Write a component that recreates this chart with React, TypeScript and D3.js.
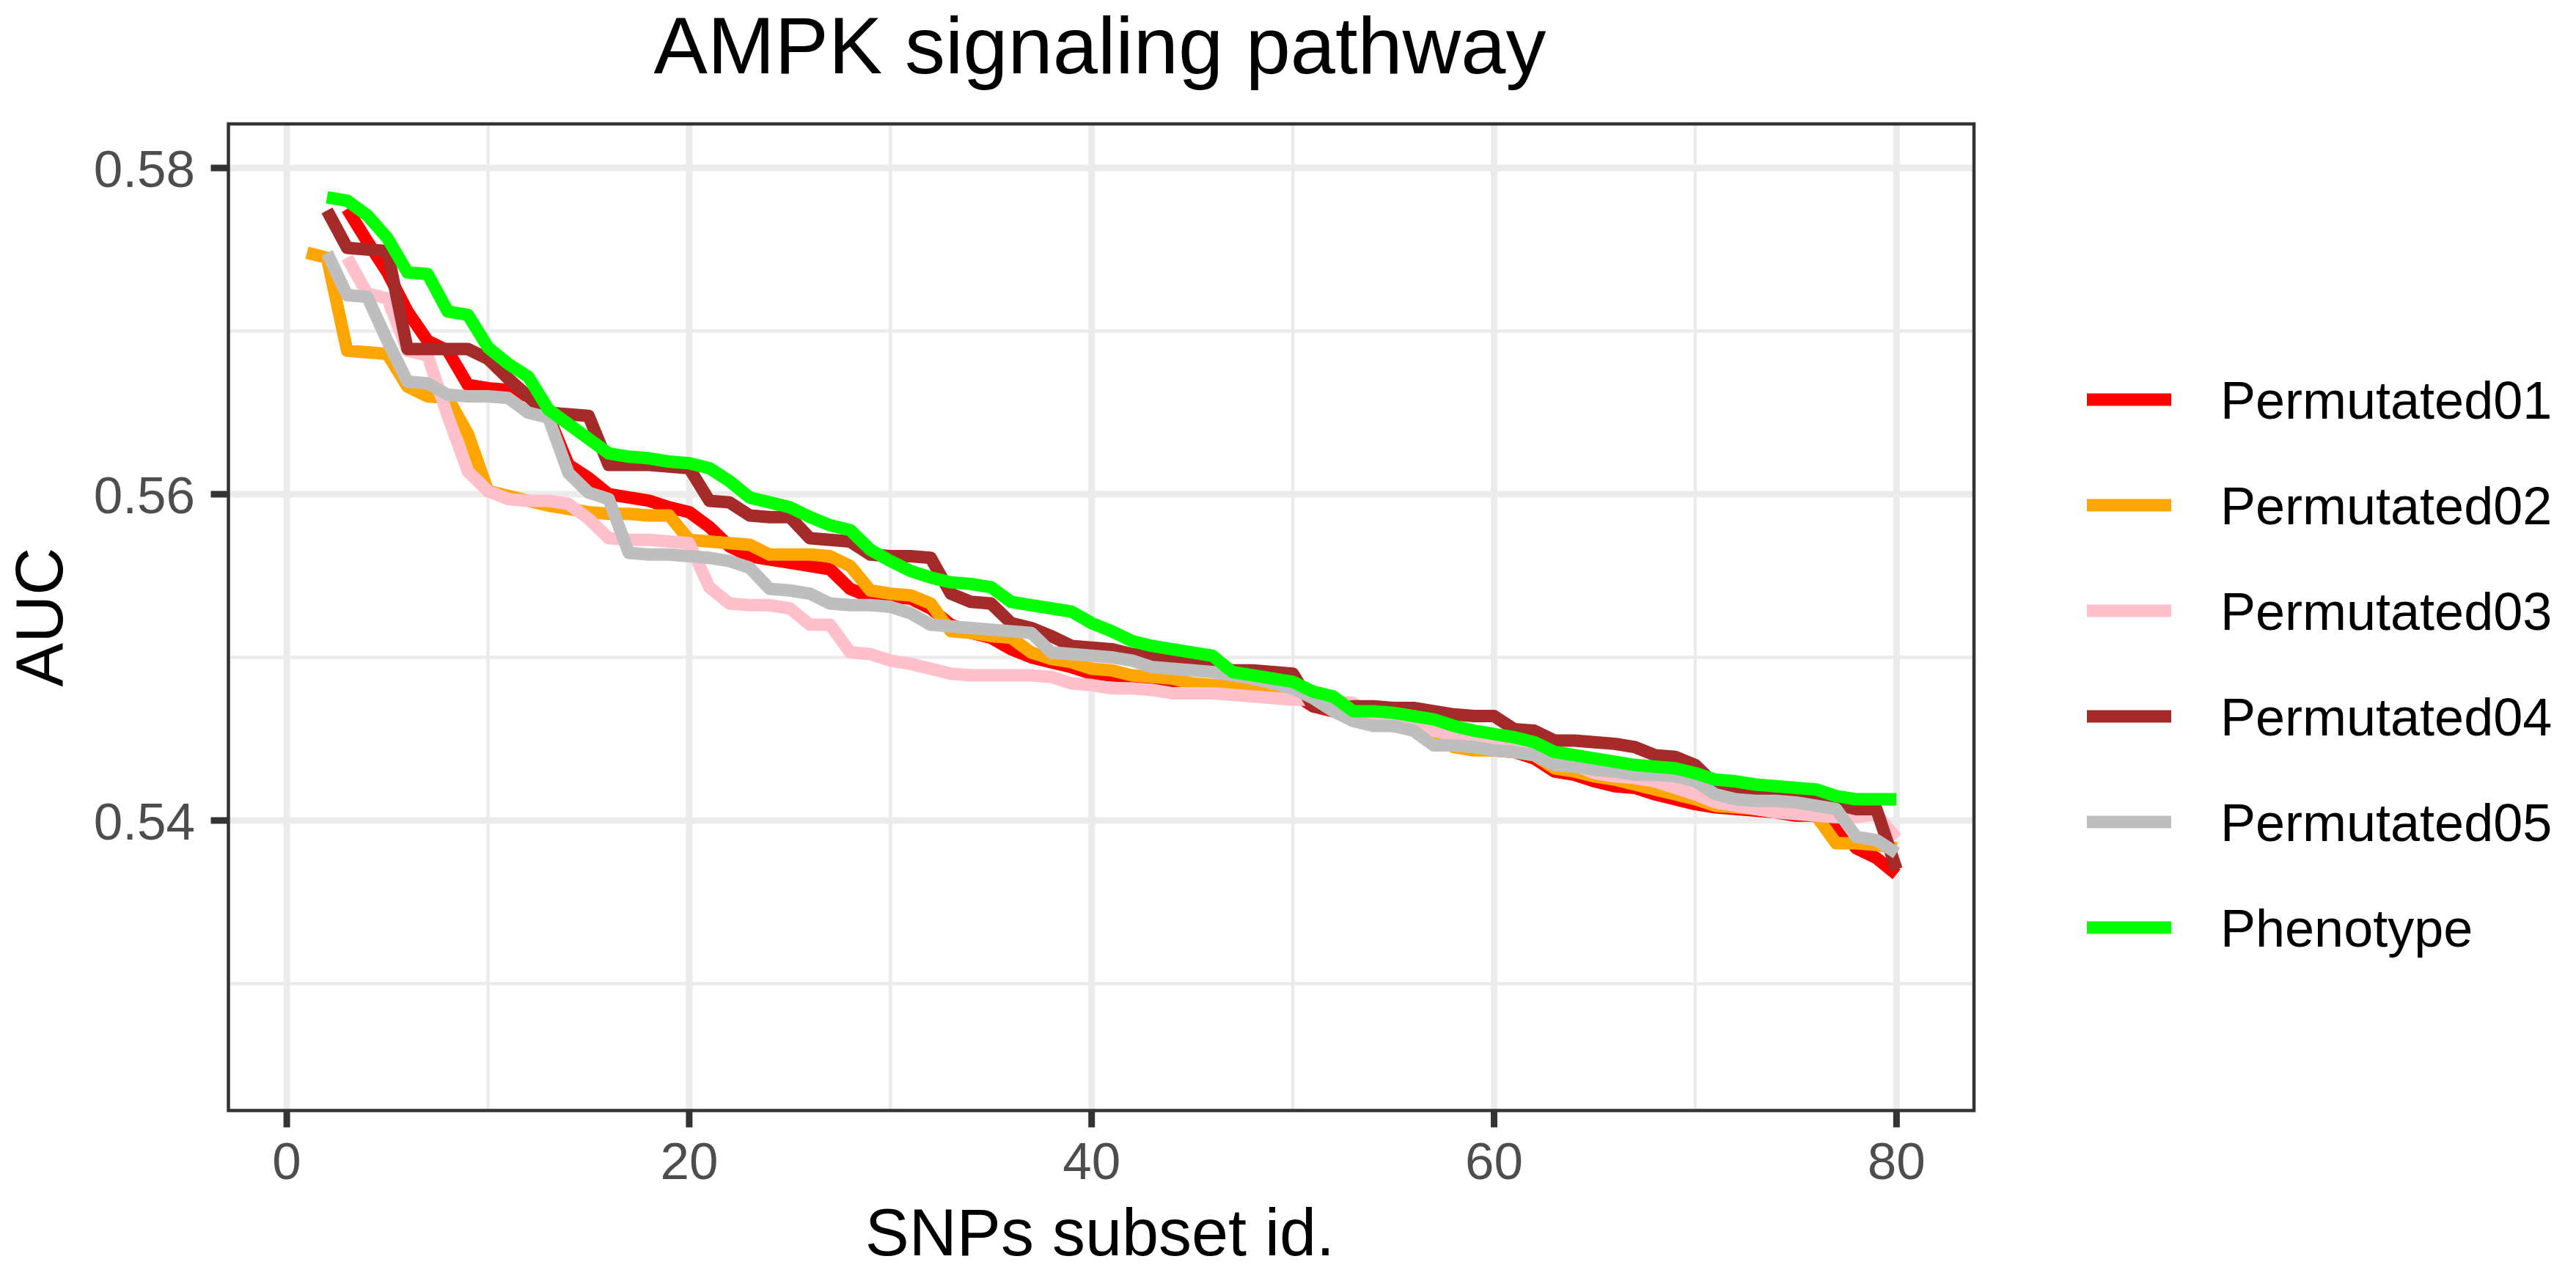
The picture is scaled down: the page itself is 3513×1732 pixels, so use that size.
import React from 'react';
import * as d3 from 'd3';

// AUC per SNPs subset id (index 0 = id 1); null where a run has no value
const permutated01 = [
  null, null, 0.5775, 0.5755, 0.5736, 0.5712, 0.5694, 0.5688, 0.5667, 0.5665,
  0.5664, 0.5660, 0.5648, 0.5618, 0.5610, 0.5600, 0.5598, 0.5596, 0.5592, 0.5589,
  0.5580, 0.5568, 0.5562, 0.5560, 0.5558, 0.5556, 0.5554, 0.5542, 0.5537, 0.5537,
  0.5536, 0.5530, 0.5520, 0.5515, 0.5512, 0.5505, 0.5500, 0.5497, 0.5494, 0.5490,
  0.5489, 0.5488, 0.5486, 0.5484, 0.5483, 0.5482, 0.5481, 0.5480, 0.5479, 0.5478,
  0.5470, 0.5467, 0.5464, 0.5460, 0.5458, 0.5456, 0.5453, 0.5446, 0.5444, 0.5443,
  0.5442, 0.5438, 0.5430, 0.5428, 0.5424, 0.5421, 0.5420, 0.5416, 0.5413, 0.5410,
  0.5408, 0.5407, 0.5406, 0.5405, 0.5403, 0.5403, 0.5398, 0.5383, 0.5377, 0.5367,
];

const permutated02 = [
  0.5748, 0.5745, 0.5688, 0.5687, 0.5686, 0.5666, 0.5660, 0.5659, 0.5637, 0.5602,
  0.5599, 0.5596, 0.5593, 0.5591, 0.5589, 0.5588, 0.5588, 0.5587, 0.5587, 0.5572,
  0.5571, 0.5570, 0.5569, 0.5563, 0.5563, 0.5563, 0.5562, 0.5556, 0.5541, 0.5539,
  0.5538, 0.5533, 0.5516, 0.5515, 0.5513, 0.5512, 0.5503, 0.5499, 0.5497, 0.5493,
  0.5492, 0.5489, 0.5488, 0.5487, 0.5484, 0.5483, 0.5482, 0.5481, 0.5480, 0.5479,
  0.5472, 0.5468, 0.5464, 0.5460, 0.5458, 0.5457, 0.5454, 0.5445, 0.5443, 0.5443,
  0.5442, 0.5440, 0.5432, 0.5430, 0.5427, 0.5425, 0.5422, 0.5419, 0.5416, 0.5413,
  0.5409, 0.5408, 0.5407, 0.5406, 0.5405, 0.5403, 0.5386, 0.5386, 0.5385, 0.5383,
];

const permutated03 = [
  null, null, 0.5745, 0.5723, 0.5720, 0.5688, 0.5685, 0.5648, 0.5614, 0.5602,
  0.5597, 0.5596, 0.5596, 0.5594, 0.5585, 0.5573, 0.5572, 0.5572, 0.5571, 0.5570,
  0.5543, 0.5533, 0.5532, 0.5532, 0.5530, 0.5520, 0.5520, 0.5503, 0.5502, 0.5498,
  0.5496, 0.5493, 0.5490, 0.5489, 0.5489, 0.5489, 0.5489, 0.5488, 0.5484, 0.5483,
  0.5481, 0.5481, 0.5480, 0.5478, 0.5478, 0.5478, 0.5477, 0.5476, 0.5475, 0.5474,
  0.5474, 0.5473, 0.5472, 0.5462, 0.5460, 0.5458, 0.5455, 0.5452, 0.5450, 0.5448,
  0.5447, 0.5446, 0.5440, 0.5434, 0.5429, 0.5427, 0.5426, 0.5424, 0.5420, 0.5416,
  0.5411, 0.5409, 0.5407, 0.5405, 0.5404, 0.5403, 0.5402, 0.5402, 0.5404, 0.5389,
];

const permutated04 = [
  null, 0.5774, 0.5751, 0.5750, 0.5749, 0.5689, 0.5689, 0.5689, 0.5689, 0.5683,
  0.5671, 0.5660, 0.5650, 0.5649, 0.5648, 0.5618, 0.5618, 0.5618, 0.5617, 0.5616,
  0.5596, 0.5595, 0.5587, 0.5586, 0.5586, 0.5573, 0.5572, 0.5571, 0.5563, 0.5562,
  0.5562, 0.5561, 0.5539, 0.5534, 0.5533, 0.5521, 0.5518, 0.5513, 0.5507, 0.5506,
  0.5505, 0.5502, 0.5501, 0.5498, 0.5497, 0.5496, 0.5492, 0.5492, 0.5491, 0.5490,
  0.5470, 0.5468, 0.5470, 0.5470, 0.5469, 0.5469, 0.5467, 0.5465, 0.5464, 0.5464,
  0.5456, 0.5455, 0.5449, 0.5449, 0.5448, 0.5447, 0.5445, 0.5440, 0.5439, 0.5434,
  0.5422, 0.5420, 0.5419, 0.5418, 0.5416, 0.5415, 0.5410, 0.5407, 0.5407, 0.5370,
];

const permutated05 = [
  null, 0.5748, 0.5722, 0.5721, 0.5694, 0.5669, 0.5668, 0.5661, 0.5660, 0.5660,
  0.5659, 0.5650, 0.5647, 0.5613, 0.5601, 0.5597, 0.5564, 0.5563, 0.5563, 0.5562,
  0.5561, 0.5559, 0.5555, 0.5542, 0.5541, 0.5539, 0.5533, 0.5532, 0.5532, 0.5531,
  0.5527, 0.5520, 0.5519, 0.5518, 0.5517, 0.5516, 0.5515, 0.5503, 0.5502, 0.5501,
  0.5500, 0.5498, 0.5494, 0.5493, 0.5492, 0.5491, 0.5489, 0.5487, 0.5484, 0.5481,
  0.5475, 0.5467, 0.5461, 0.5458, 0.5458, 0.5455, 0.5446, 0.5446, 0.5445, 0.5443,
  0.5442, 0.5440, 0.5434, 0.5433, 0.5431, 0.5430, 0.5428, 0.5428, 0.5427, 0.5424,
  0.5416, 0.5413, 0.5412, 0.5412, 0.5411, 0.5409, 0.5407, 0.5390, 0.5388, 0.5380,
];

const phenotype = [
  null, 0.5782, 0.5780, 0.5771, 0.5757, 0.5736, 0.5735, 0.5712, 0.5710, 0.5690,
  0.5680, 0.5672, 0.5652, 0.5643, 0.5634, 0.5625, 0.5623, 0.5622, 0.5620, 0.5619,
  0.5616, 0.5608, 0.5598, 0.5595, 0.5592, 0.5586, 0.5581, 0.5578, 0.5566, 0.5559,
  0.5553, 0.5549, 0.5546, 0.5545, 0.5543, 0.5534, 0.5532, 0.5530, 0.5528, 0.5521,
  0.5516, 0.5510, 0.5507, 0.5505, 0.5503, 0.5501, 0.5491, 0.5489, 0.5487, 0.5485,
  0.5479, 0.5476, 0.5467, 0.5467, 0.5466, 0.5464, 0.5462, 0.5458, 0.5455, 0.5453,
  0.5451, 0.5448, 0.5442, 0.5440, 0.5438, 0.5436, 0.5434, 0.5433, 0.5432, 0.5429,
  0.5425, 0.5424, 0.5422, 0.5421, 0.5420, 0.5419, 0.5415, 0.5413, 0.5413, 0.5413,
];

const seriesNames = ['Permutated01', 'Permutated02', 'Permutated03', 'Permutated04', 'Permutated05', 'Phenotype'];
const seriesValues = [permutated01, permutated02, permutated03, permutated04, permutated05, phenotype];
const seriesColors = ['#FF0000', '#FFA500', '#FFC0CB', '#A52A2A', '#BEBEBE', '#00FF00'];

const xMajorTicks = [0, 20, 40, 60, 80];
const xMinorTicks = [10, 30, 50, 70];
const yMajorTicks = [0.54, 0.56, 0.58];
const yMinorTicks = [0.53, 0.55, 0.57];

const chartTitle = 'AMPK signaling pathway';
const xTitle = 'SNPs subset id.';
const yTitle = 'AUC';

const W = 3513;
const H = 1732;
const panel = { left: 311.5, right: 2692, top: 169, bottom: 1514.5 };
const font = '"Liberation Sans", Arial, Helvetica, sans-serif';

const App = () => {
  const x = d3.scaleLinear().domain([-2.9, 83.85]).range([panel.left, panel.right]);
  const y = d3.scaleLinear().domain([0.52222, 0.5827]).range([panel.bottom, panel.top]);

  const line = d3
    .line<number | null>()
    .defined((d) => d !== null)
    .x((_, i) => x(i + 1))
    .y((d) => y(d as number));

  const legendX = 2846;
  const legendTop = 545;
  const legendStep = 144;

  return (
    <svg
      width={W}
      height={H}
      style={{ position: 'absolute', left: 0, top: 0, background: '#fff' }}
      fontFamily={font}
    >
      <rect x={0} y={0} width={W} height={H} fill="#fff" />

      {/* grid */}
      <g>
        {yMinorTicks.map((t) => (
          <line key={'ym' + t} x1={panel.left} x2={panel.right} y1={y(t)} y2={y(t)} stroke="#EBEBEB" strokeWidth={4.5} />
        ))}
        {xMinorTicks.map((t) => (
          <line key={'xm' + t} x1={x(t)} x2={x(t)} y1={panel.top} y2={panel.bottom} stroke="#EBEBEB" strokeWidth={4.5} />
        ))}
        {yMajorTicks.map((t) => (
          <line key={'yM' + t} x1={panel.left} x2={panel.right} y1={y(t)} y2={y(t)} stroke="#EBEBEB" strokeWidth={9} />
        ))}
        {xMajorTicks.map((t) => (
          <line key={'xM' + t} x1={x(t)} x2={x(t)} y1={panel.top} y2={panel.bottom} stroke="#EBEBEB" strokeWidth={9} />
        ))}
      </g>

      {/* series */}
      <g fill="none" strokeWidth={17} strokeLinejoin="round" strokeLinecap="butt">
        {seriesValues.map((vals, i) => (
          <path key={seriesNames[i]} d={line(vals) || ''} stroke={seriesColors[i]} />
        ))}
      </g>

      {/* panel border */}
      <rect
        x={panel.left}
        y={panel.top}
        width={panel.right - panel.left}
        height={panel.bottom - panel.top}
        fill="none"
        stroke="#333333"
        strokeWidth={4.5}
      />

      {/* y axis */}
      <g>
        {yMajorTicks.map((t) => (
          <g key={'yt' + t}>
            <line x1={panel.left - 24} x2={panel.left} y1={y(t)} y2={y(t)} stroke="#333333" strokeWidth={9} />
            <text x={266} y={y(t) + 26} textAnchor="end" fontSize={71} fill="#4D4D4D">
              {d3.format('.2f')(t)}
            </text>
          </g>
        ))}
      </g>

      {/* x axis */}
      <g>
        {xMajorTicks.map((t) => (
          <g key={'xt' + t}>
            <line x1={x(t)} x2={x(t)} y1={panel.bottom} y2={panel.bottom + 23} stroke="#333333" strokeWidth={9} />
            <text x={x(t)} y={1608} textAnchor="middle" fontSize={71} fill="#4D4D4D">
              {t}
            </text>
          </g>
        ))}
      </g>

      <text x={1500} y={100} textAnchor="middle" fontSize={110} fill="#000">
        {chartTitle}
      </text>
      <text x={1500} y={1712} textAnchor="middle" fontSize={90} fill="#000">
        {xTitle}
      </text>
      <text
        transform={`translate(85, ${(panel.top + panel.bottom) / 2}) rotate(-90)`}
        textAnchor="middle"
        fontSize={90}
        fill="#000"
      >
        {yTitle}
      </text>

      {/* legend */}
      <g>
        {seriesNames.map((name, i) => {
          const ly = legendTop + i * legendStep;
          return (
            <g key={'lg' + name}>
              <line x1={legendX} x2={legendX + 115} y1={ly} y2={ly} stroke={seriesColors[i]} strokeWidth={17} />
              <text x={3028} y={ly + 26} fontSize={72} fill="#000">
                {name}
              </text>
            </g>
          );
        })}
      </g>
    </svg>
  );
};

export default App;
